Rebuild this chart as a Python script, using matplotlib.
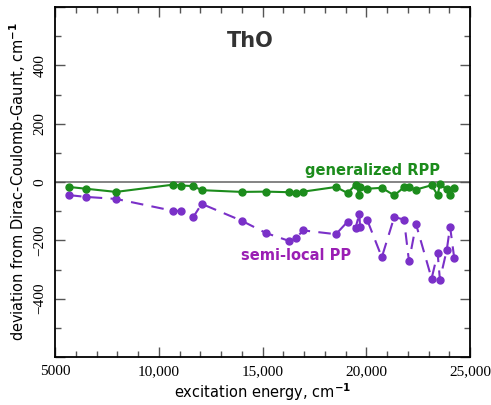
import matplotlib
matplotlib.use("Agg")
import matplotlib.pyplot as plt
from matplotlib.ticker import MultipleLocator, FuncFormatter

energy = [5675, 6480, 7940, 10700, 11070, 11665, 12070, 14000, 15170, 16280,
          16620, 16970, 18540, 19100, 19490, 19670, 19700, 20050, 20750, 21350,
          21820, 22060, 22400, 23150, 23440, 23550, 23880, 24040, 24240]
grpp = [-17, -23, -34, -9, -12, -14, -28, -34, -33, -35,
        -37, -33, -17, -38, -9, -43, -17, -23, -20, -46,
        -18, -18, -26, -11, -45, -7, -25, -46, -20]
slpp = [-45, -51, -58, -99, -99, -120, -75, -133, -175, -202,
        -191, -166, -179, -136, -156, -108, -154, -131, -258, -120,
        -129, -272, -145, -331, -244, -335, -233, -153, -261]

title = "ThO"
label_grpp = "generalized RPP"
label_slpp = "semi-local PP"

green = "#1c8c1c"
purple = "#7a30c8"
purple_text = "#9a1fb4"

fig = plt.figure(figsize=(4.91, 4.05), dpi=100)
ax = fig.add_axes([55/491, 48/405, 415/491, 350/405])

ax.axhline(0, color="#707070", lw=1.2, zorder=1)
ax.plot(energy, grpp, "-o", color=green, lw=1.5, ms=5, zorder=3)
ax.plot(energy, slpp, "--o", color=purple, lw=1.5, ms=5, dashes=(6, 4), zorder=2)

ax.set_xlim(5000, 25000)
ax.set_ylim(-600, 600)
ax.xaxis.set_major_locator(MultipleLocator(5000))
ax.xaxis.set_minor_locator(MultipleLocator(1000))
ax.yaxis.set_major_locator(MultipleLocator(200))
ax.yaxis.set_minor_locator(MultipleLocator(100))

def xfmt(v, p):
    return f"{int(v):,}" if v >= 10000 else f"{int(v)}"

def yfmt(v, p):
    if abs(v) >= 600:
        return ""
    s = f"{int(v)}"
    return s.replace("-", "\u2212")

ax.xaxis.set_major_formatter(FuncFormatter(xfmt))
ax.yaxis.set_major_formatter(FuncFormatter(yfmt))

ax.tick_params(which="both", direction="in", top=True, right=True,
               labelfontfamily="Liberation Serif", labelsize=11, width=1, color="#555555")
ax.tick_params(which="major", length=7, pad=6)
ax.tick_params(which="minor", length=4)
plt.setp(ax.get_yticklabels(), rotation=90, va="center")
for s in ax.spines.values():
    s.set_linewidth(1.3)

ax.set_xlabel(r"excitation energy, cm$^{\mathbf{-1}}$", fontsize=10.5, labelpad=2)
ax.set_ylabel(r"deviation from Dirac-Coulomb-Gaunt, cm$^{\mathbf{-1}}$", fontsize=10.5, labelpad=4)

ax.text(14400, 485, title, fontsize=15, fontweight="bold", color="#333333", ha="center", va="center")
ax.text(20300, 40, label_grpp, fontsize=10.5, fontweight="bold", color=green, ha="center", va="center")
ax.text(16600, -252, label_slpp, fontsize=10.5, fontweight="bold", color=purple_text, ha="center", va="center")

fig.savefig("out.png", dpi=100)
